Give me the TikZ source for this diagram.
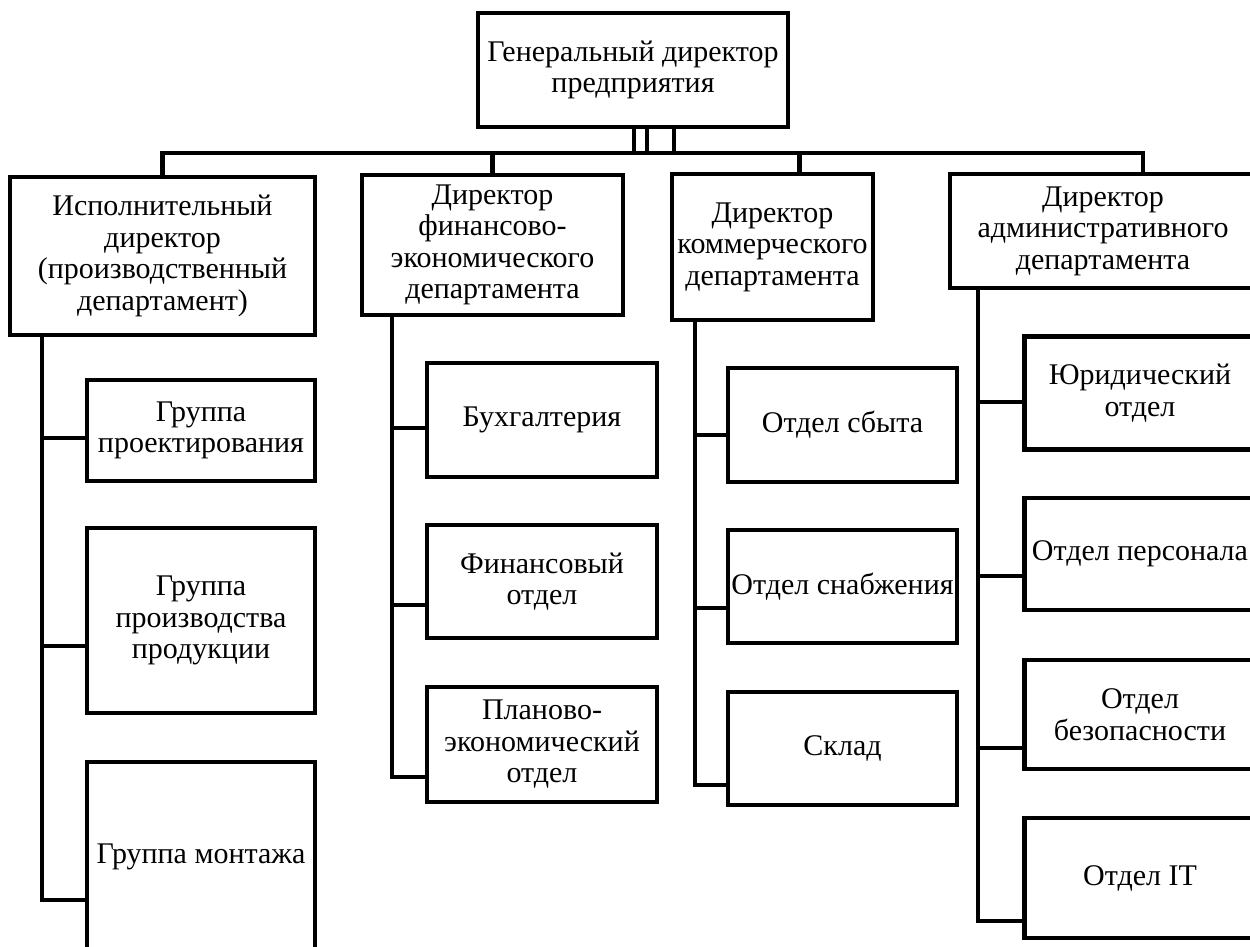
\documentclass[tikz,border=0pt]{standalone}
\usepackage{fontspec}
\setmainfont{Liberation Serif}
\usetikzlibrary{positioning}

\begin{document}
\begin{tikzpicture}
  [x=1pt,y=-1pt,
   every node/.style={draw,rectangle,line width=4.5pt,align=center,inner sep=0pt,
     font=\fontsize{30}{31.5}\selectfont},
   link/.style={line width=4.5pt,line join=miter}]
  \useasboundingbox (0,0) rectangle (1250,946);
  \node[minimum width=310,minimum height=114] (ceo) at (633,70) {Генеральный директор\\предприятия};
  \node[minimum width=305,minimum height=158] (exec) at (162.5,256) {Исполнительный\\директор\\(производственный\\департамент)};
  \node[minimum width=261,minimum height=140] (fin) at (492.5,245) {Директор\\финансово-\\экономического\\департамента};
  \node[minimum width=201,minimum height=146] (comm) at (772.5,247) {Директор\\коммерческого\\департамента};
  \node[minimum width=306,minimum height=114] (admin) at (1103,231) {Директор\\административного\\департамента};
  \node[minimum width=228,minimum height=101] (g1) at (201,430.5) {Группа\\проектирования};
  \node[minimum width=228,minimum height=185] (g2) at (201,620.5) {Группа\\производства\\продукции};
  \node[minimum width=228,minimum height=190] (g3) at (201,857) {Группа монтажа};
  \node[minimum width=230,minimum height=114] (f1) at (542,420) {Бухгалтерия};
  \node[minimum width=230,minimum height=113] (f2) at (542,581.5) {Финансовый\\отдел};
  \node[minimum width=230,minimum height=115] (f3) at (542,744.5) {Планово-\\экономический\\отдел};
  \node[minimum width=229,minimum height=114] (c1) at (842.5,425) {Отдел сбыта};
  \node[minimum width=229,minimum height=113] (c2) at (842.5,586.5) {Отдел снабжения};
  \node[minimum width=229,minimum height=113] (c3) at (842.5,748.5) {Склад};
  \node[minimum width=231,minimum height=113] (a1) at (1140,393) {Юридический\\отдел};
  \node[minimum width=231,minimum height=112] (a2) at (1140,554) {Отдел персонала};
  \node[minimum width=231,minimum height=109] (a3) at (1140,714.5) {Отдел\\безопасности};
  \node[minimum width=231,minimum height=120] (a4) at (1140,878) {Отдел IT};
  % bus under the general director
  \coordinate (bus) at (0,153);
  \foreach \dx in {1,14,41}
    \draw[link] ([xshift=\dx]ceo.south) -- ([xshift=\dx]ceo.south |- bus);
  \draw[link] (exec.north) -- (exec.north |- bus) -- ([xshift=40]admin.north |- bus) -- ([xshift=40]admin.north);
  \draw[link] (fin.north) -- (fin.north |- bus);
  \draw[link] ([xshift=27]comm.north) -- ([xshift=27]comm.north |- bus);
  % departments
  \foreach \kid/\dy in {g1/-7.5,g2/-25.5,g3/-43}
    \draw[link] ([xshift=34]exec.south west) |- ([yshift=\dy]\kid.west);
  \foreach \kid/\dy in {f1/-8,f2/-23.5,f3/-32.5}
    \draw[link] ([xshift=32]fin.south west) |- ([yshift=\dy]\kid.west);
  \foreach \kid/\dy in {c1/-10,c2/-21.5,c3/-36.5}
    \draw[link] ([xshift=25]comm.south west) |- ([yshift=\dy]\kid.west);
  \foreach \kid/\dy in {a1/-9,a2/-22,a3/-33.5,a4/-43}
    \draw[link] ([xshift=30]admin.south west) |- ([yshift=\dy]\kid.west);
\end{tikzpicture}
\end{document}
